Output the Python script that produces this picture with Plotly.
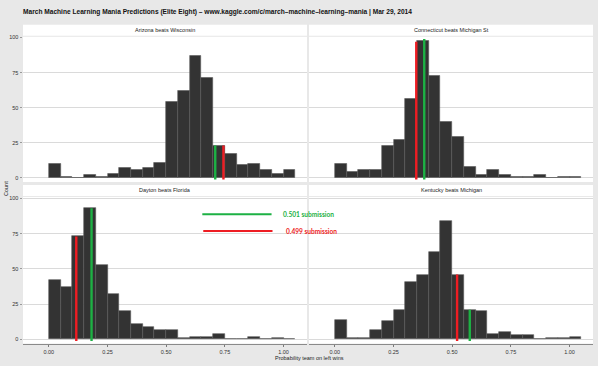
import plotly.graph_objects as go

# ---- data ----
bin_centers = [0.025 + 0.05 * i for i in range(21)]
titles = ["Arizona beats Wisconsin", "Connecticut beats Michigan St",
          "Dayton beats Florida", "Kentucky beats Michigan"]
arizona = [10, 1, 0, 2, 1, 3, 7, 6, 7, 11, 54, 62, 87, 71, 23, 17, 9, 10, 6, 3, 6]
connecticut = [10, 4, 6, 6, 23, 27, 56, 98, 73, 40, 29, 8, 2, 6, 2, 1, 1, 2, 0, 1, 1]
dayton = [42, 37, 73, 93, 53, 32, 20, 11, 9, 7, 7, 1, 2, 2, 4, 0, 0, 2, 0, 1, 0]
kentucky = [14, 1, 1, 7, 13, 21, 41, 46, 62, 84, 46, 21, 20, 4, 5, 3, 3, 0, 1, 1, 2]
counts = [arizona, connecticut, dayton, kentucky]

green_sub = [0.709, 0.381, 0.182, 0.575]   # 0.501 submission
green_h = [23, 99, 93, 21]
red_sub = [0.744, 0.347, 0.117, 0.521]     # 0.499 submission
red_h = [23, 97, 73, 46]

x_ticks = [0.0, 0.25, 0.5, 0.75, 1.0]
x_tick_labels = ["0.00", "0.25", "0.50", "0.75", "1.00"]
y_ticks = [0, 25, 50, 75, 100]
y_tick_labels = ["0", "25", "50", "75", "100"]

GREEN = "#1DB144"
RED = "#EE1D23"
W, H = 598, 366

def px_x(p):
    return p / W

def px_y(p):
    return 1 - p / H

col_dom = [(px_x(23), px_x(307)), (px_x(309), px_x(593))]
row_dom = [(px_y(181), px_y(35)), (px_y(343.5), px_y(196))]
strip_px = [(23, 34), (184, 195)]

fig = go.Figure()
layout = {}
shapes = []
annotations = []
for i in range(4):
    r, c = divmod(i, 2)
    n = "" if i == 0 else str(i + 1)
    xa, ya = "x" + n, "y" + n
    fig.add_trace(go.Bar(
        x=bin_centers, y=counts[i], width=0.05, xaxis=xa, yaxis=ya,
        marker=dict(color="#333333", line=dict(color="#5a5a5a", width=0.6)),
        showlegend=False, hoverinfo="x+y"))
    fig.add_trace(go.Scatter(
        x=[red_sub[i], red_sub[i]], y=[-1.2, red_h[i]], mode="lines",
        line=dict(color=RED, width=2.4), xaxis=xa, yaxis=ya, showlegend=False))
    fig.add_trace(go.Scatter(
        x=[green_sub[i], green_sub[i]], y=[-1.2, green_h[i]], mode="lines",
        line=dict(color=GREEN, width=2.4), xaxis=xa, yaxis=ya, showlegend=False))
    layout["xaxis" + n] = dict(
        domain=list(col_dom[c]), anchor=ya, range=[-0.11, 1.10],
        tickvals=x_ticks, ticktext=x_tick_labels,
        showticklabels=(r == 1), ticks="outside" if r == 1 else "",
        ticklen=2.5, tickcolor="#7a7a7a", tickwidth=0.8,
        showline=(r == 1), linecolor="#8a8a8a", linewidth=1,
        showgrid=False, zeroline=False,
        tickfont=dict(family="Liberation Sans", size=5.5, color="#333333"))
    layout["yaxis" + n] = dict(
        domain=list(row_dom[r]), anchor=xa,
        range=[-3, 100.5] if r == 0 else [-3, 101],
        tickvals=y_ticks, ticktext=y_tick_labels,
        showticklabels=(c == 0), ticks="outside" if c == 0 else "",
        ticklen=2.5, tickcolor="#9a9a9a", tickwidth=0.8,
        showgrid=True, gridcolor="#DADADA", gridwidth=1.3,
        zeroline=False, showline=False,
        tickfont=dict(family="Liberation Sans", size=5.5, color="#333333"))
    # strip
    x0, x1 = col_dom[c]
    sy0, sy1 = strip_px[r]
    shapes.append(dict(type="rect", xref="paper", yref="paper",
                       x0=x0, x1=x1, y0=px_y(sy1), y1=px_y(sy0),
                       fillcolor="white", line=dict(width=0), layer="below"))
    annotations.append(dict(xref="paper", yref="paper", x=(x0 + x1) / 2,
                            y=px_y((sy0 + sy1) / 2), text=titles[i],
                            showarrow=False, xanchor="center", yanchor="middle",
                            font=dict(family="Liberation Sans", size=5.5, color="#222222")))

# legend key drawn inside the Dayton panel
shapes.append(dict(type="line", xref="x3", yref="y3", x0=0.654, x1=0.949,
                   y0=88.7, y1=88.7, line=dict(color=GREEN, width=2)))
shapes.append(dict(type="line", xref="x3", yref="y3", x0=0.658, x1=0.953,
                   y0=76.9, y1=76.9, line=dict(color=RED, width=2)))
annotations.append(dict(xref="x3", yref="y3", x=0.99, y=88.7, text="<b>0.501 submission</b>",
                        showarrow=False, xanchor="left", yanchor="middle",
                        font=dict(family="Lato", size=6.6, color=GREEN)))
annotations.append(dict(xref="x3", yref="y3", x=1.0, y=76.9, text="<b>0.499 submission</b>",
                        showarrow=False, xanchor="left", yanchor="middle",
                        font=dict(family="Lato", size=6.6, color=RED)))

annotations.append(dict(xref="paper", yref="paper", x=px_x(21), y=px_y(10),
                        text="<b>March Machine Learning Mania Predictions (Elite Eight) – www.kaggle.com/c/march–machine–learning–mania | Mar 29, 2014</b>",
                        showarrow=False, xanchor="left", yanchor="middle",
                        font=dict(family="Liberation Sans", size=6.6, color="#111111")))
annotations.append(dict(xref="paper", yref="paper", x=px_x(309), y=px_y(357.5),
                        text="Probability team on left wins", showarrow=False,
                        xanchor="center", yanchor="middle",
                        font=dict(family="Liberation Sans", size=5.5, color="#222222")))
annotations.append(dict(xref="paper", yref="paper", x=px_x(6), y=px_y(188),
                        text="Count", textangle=-90, showarrow=False,
                        xanchor="center", yanchor="middle",
                        font=dict(family="Liberation Sans", size=5.5, color="#222222")))

fig.update_layout(
    width=W, height=H, margin=dict(l=0, r=0, t=0, b=0),
    paper_bgcolor="#E8E8E8", plot_bgcolor="white",
    bargap=0, shapes=shapes, annotations=annotations, **layout)

fig.write_html("out.html", config={"displayModeBar": False},
               post_script="document.body.style.margin='0';document.body.style.padding='0';")
